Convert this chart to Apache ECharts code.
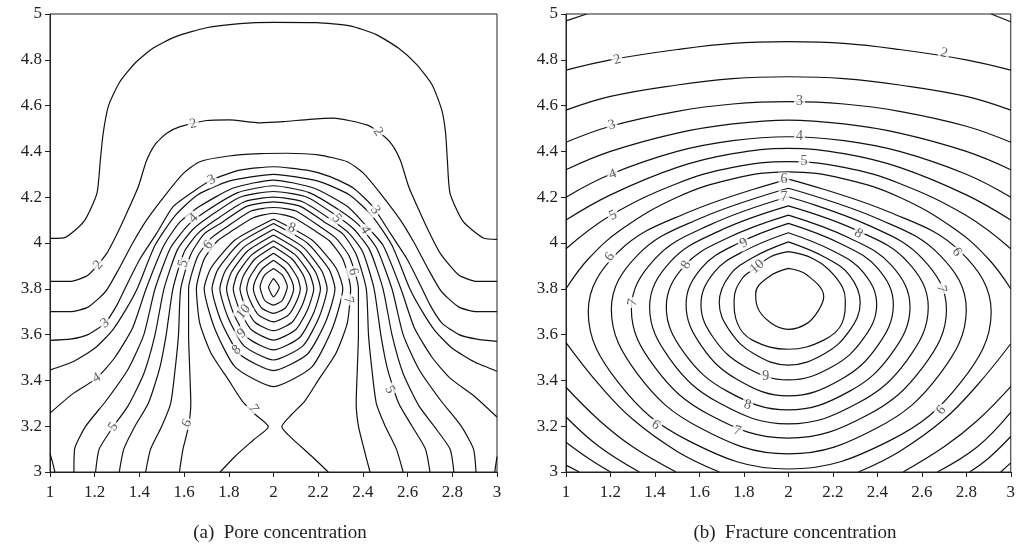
<!DOCTYPE html>
<html><head><meta charset="utf-8"><title>Concentration contours</title>
<script src="https://cdn.jsdelivr.net/npm/echarts@6/dist/echarts.min.js"></script>
<style>html,body{margin:0;padding:0;background:#fff;}#chart{width:1018px;height:552px;}</style>
</head><body><div id="chart"></div>
<script>
// ---------- axes ----------
const xRange = [1, 3];
const yRange = [3, 5];
const tickStep = 0.2;
const captions = ['(a)  Pore concentration', '(b)  Fracture concentration'];

// ---------- (a) pore concentration contours: [x, y] in data units ----------
const pore_1_5 = [[1,4.02],[1.061,4.022],[1.151,4.093],[1.21,4.217],[1.225,4.36],[1.238,4.48],[1.262,4.6],[1.31,4.7],[1.38,4.785],[1.46,4.85],[1.56,4.9],[1.7,4.94],[1.85,4.958],[2,4.963],[2.193,4.962],[2.342,4.948],[2.46,4.91],[2.56,4.85],[2.64,4.78],[2.71,4.69],[2.753,4.58],[2.77,4.48],[2.778,4.36],[2.79,4.217],[2.849,4.093],[2.939,4.022],[3,4.016]];
const pore_2 = [[1,3.832],[1.089,3.832],[1.171,3.86],[1.254,3.955],[1.3,4.04],[1.343,4.13],[1.395,4.246],[1.432,4.36],[1.47,4.43],[1.522,4.479],[1.582,4.508],[1.7,4.535],[1.8,4.538],[1.94,4.525],[2.044,4.53],[2.16,4.54],[2.268,4.545],[2.417,4.516],[2.478,4.479],[2.53,4.43],[2.568,4.36],[2.605,4.246],[2.657,4.13],[2.7,4.04],[2.746,3.955],[2.829,3.86],[2.911,3.832],[3,3.832]];
const pore_2_5 = [[1,3.7],[1.09,3.7],[1.17,3.72],[1.25,3.79],[1.31,3.89],[1.37,4.0],[1.432,4.1],[1.522,4.217],[1.597,4.304],[1.67,4.355],[1.8,4.38],[1.94,4.39],[2.06,4.392],[2.2,4.385],[2.33,4.355],[2.403,4.304],[2.478,4.217],[2.568,4.1],[2.63,4.0],[2.69,3.89],[2.75,3.79],[2.83,3.72],[2.91,3.7],[3,3.7]];
const pore_3 = [[1,3.575],[1.09,3.58],[1.17,3.6],[1.246,3.65],[1.3,3.73],[1.345,3.82],[1.4,3.926],[1.477,4.042],[1.55,4.158],[1.64,4.224],[1.723,4.275],[1.85,4.318],[2,4.333],[2.15,4.318],[2.253,4.29],[2.357,4.24],[2.445,4.158],[2.523,4.042],[2.6,3.926],[2.655,3.82],[2.7,3.73],[2.754,3.65],[2.83,3.6],[2.91,3.58],[3,3.57]];
const pore_3_5 = [[1,3.445],[1.1,3.48],[1.2,3.54],[1.28,3.62],[1.34,3.71],[1.39,3.8],[1.47,3.99],[1.56,4.12],[1.66,4.21],[1.8,4.27],[2,4.3],[2.2,4.27],[2.34,4.21],[2.44,4.12],[2.53,3.99],[2.61,3.8],[2.66,3.71],[2.72,3.62],[2.8,3.54],[2.9,3.48],[3,3.44]];
const pore_4 = [[1,3.257],[1.1,3.34],[1.209,3.41],[1.29,3.5],[1.37,3.63],[1.43,3.8],[1.51,3.99],[1.58,4.09],[1.67,4.16],[1.82,4.24],[2,4.275],[2.18,4.24],[2.33,4.16],[2.41,4.08],[2.49,3.99],[2.57,3.8],[2.63,3.63],[2.71,3.5],[2.79,3.41],[2.9,3.33],[3,3.24]];
const pore_4_cornerL = [[1,3.08],[1.012,3.04],[1.022,3]];
const pore_4_cornerR = [[2.99,3],[2.995,3.035],[3,3.067]];
const pore_4_5 = [[1.107,3],[1.11,3.1],[1.16,3.2],[1.25,3.31],[1.35,3.45],[1.42,3.6],[1.47,3.8],[1.54,3.98],[1.62,4.08],[1.7,4.14],[1.84,4.22],[2,4.25],[2.16,4.22],[2.3,4.14],[2.38,4.08],[2.46,3.98],[2.53,3.8],[2.58,3.6],[2.65,3.45],[2.75,3.31],[2.84,3.2],[2.895,3.1],[2.906,3]];
const pore_5 = [[1.204,3],[1.22,3.1],[1.283,3.198],[1.35,3.29],[1.42,3.43],[1.47,3.6],[1.51,3.8],[1.57,3.97],[1.64,4.06],[1.72,4.12],[1.85,4.2],[2,4.225],[2.15,4.2],[2.28,4.12],[2.36,4.06],[2.43,3.97],[2.49,3.8],[2.53,3.6],[2.58,3.43],[2.65,3.29],[2.72,3.198],[2.79,3.1],[2.807,3]];
const pore_5_5 = [[1.31,3],[1.33,3.1],[1.38,3.2],[1.44,3.3],[1.49,3.45],[1.52,3.6],[1.55,3.8],[1.6,3.96],[1.66,4.04],[1.74,4.1],[1.87,4.18],[2,4.2],[2.13,4.18],[2.26,4.1],[2.34,4.04],[2.4,3.96],[2.45,3.8],[2.48,3.6],[2.51,3.45],[2.56,3.3],[2.62,3.2],[2.68,3.1],[2.7,3]];
const pore_6 = [[1.428,3],[1.45,3.1],[1.5,3.2],[1.54,3.3],[1.56,3.45],[1.575,3.6],[1.585,3.8],[1.63,3.95],[1.69,4.04],[1.77,4.09],[1.88,4.16],[2,4.18],[2.12,4.16],[2.23,4.09],[2.31,4.04],[2.37,3.95],[2.415,3.8],[2.425,3.6],[2.44,3.45],[2.46,3.3],[2.5,3.2],[2.55,3.1],[2.58,3]];
const pore_6_5 = [[1.579,3],[1.595,3.1],[1.62,3.2],[1.63,3.3],[1.625,3.45],[1.62,3.6],[1.62,3.8],[1.66,3.94],[1.72,4.02],[1.79,4.07],[1.9,4.14],[2,4.155],[2.1,4.14],[2.21,4.07],[2.28,4.02],[2.34,3.94],[2.38,3.8],[2.38,3.6],[2.375,3.45],[2.37,3.3],[2.38,3.2],[2.405,3.1],[2.432,3]];
const pore_7 = [[1.761,3],[1.83,3.07],[1.91,3.14],[1.977,3.198],[1.92,3.25],[1.86,3.31],[1.8,3.4],[1.72,3.52],[1.67,3.65],[1.655,3.8],[1.69,3.93],[1.75,4.01],[1.81,4.05],[1.91,4.11],[2,4.13],[2.09,4.11],[2.19,4.05],[2.25,4.01],[2.31,3.93],[2.345,3.8],[2.33,3.65],[2.28,3.52],[2.2,3.4],[2.14,3.31],[2.08,3.25],[2.037,3.198],[2.09,3.14],[2.17,3.07],[2.245,3]];
const pore_7_5 = [[2,4.105],[2.171,4.014],[2.279,3.892],[2.31,3.8],[2.264,3.629],[2.171,3.458],[2,3.373],[1.829,3.458],[1.736,3.629],[1.69,3.8],[1.721,3.892],[1.829,4.014],[2,4.105]];
const pore_8 = [[2,4.085],[2.151,4.0],[2.248,3.886],[2.275,3.8],[2.234,3.657],[2.151,3.514],[2,3.443],[1.849,3.514],[1.766,3.657],[1.725,3.8],[1.752,3.886],[1.849,4.0],[2,4.085]];
const pore_8_5 = [[2,4.06],[2.132,3.982],[2.216,3.878],[2.24,3.8],[2.204,3.676],[2.132,3.551],[2,3.489],[1.868,3.551],[1.796,3.676],[1.76,3.8],[1.784,3.878],[1.868,3.982],[2,4.06]];
const pore_9 = [[2,4.035],[2.116,3.965],[2.189,3.871],[2.21,3.8],[2.179,3.693],[2.116,3.586],[2,3.533],[1.884,3.586],[1.821,3.693],[1.79,3.8],[1.811,3.871],[1.884,3.965],[2,4.035]];
const pore_9_5 = [[2,4.01],[2.099,3.947],[2.162,3.863],[2.18,3.8],[2.153,3.71],[2.099,3.621],[2,3.576],[1.901,3.621],[1.847,3.71],[1.82,3.8],[1.838,3.863],[1.901,3.947],[2,4.01]];
const pore_10 = [[2,3.985],[2.083,3.93],[2.135,3.856],[2.15,3.8],[2.128,3.727],[2.083,3.654],[2,3.617],[1.917,3.654],[1.872,3.727],[1.85,3.8],[1.865,3.856],[1.917,3.93],[2,3.985]];
const pore_10_5 = [[2,3.955],[2.066,3.909],[2.108,3.847],[2.12,3.8],[2.102,3.742],[2.066,3.685],[2,3.656],[1.934,3.685],[1.898,3.742],[1.88,3.8],[1.892,3.847],[1.934,3.909],[2,3.955]];
const pore_11 = [[2,3.925],[2.05,3.8875],[2.081,3.8375],[2.09,3.8],[2.077,3.757],[2.05,3.714],[2,3.693],[1.95,3.714],[1.923,3.757],[1.91,3.8],[1.919,3.8375],[1.95,3.8875],[2,3.925]];
const pore_11_5 = [[2,3.889],[2.04,3.86],[2.062,3.81],[2.04,3.75],[2,3.729],[1.96,3.75],[1.94,3.81],[1.96,3.86],[2,3.889]];
const pore_12 = [[2,3.846],[2.026,3.807],[2,3.765],[1.978,3.807],[2,3.846]];
// contour labels [x, y, text, rotation]
const poreLabels = [
  [1.216,3.904,'2',50],[1.641,4.52,'2',12],[2.468,4.486,'2',-55],
  [1.246,3.65,'3',35],[1.723,4.275,'3',25],[2.455,4.144,'3',-55],
  [1.209,3.41,'4',30],[1.641,4.108,'4',45],[2.41,4.057,'4',-60],
  [1.283,3.198,'5',55],[1.596,3.911,'5',75],[2.283,4.108,'5',-50],[2.52,3.36,'5',-65],
  [1.612,3.213,'6',65],[1.708,3.991,'6',50],[2.357,3.875,'6',-75],
  [1.91,3.278,'7',-60],[2.335,3.751,'7',-80],
  [2.082,4.065,'8',-20],[1.835,3.533,'8',40],
  [1.858,3.605,'9',40],
  [1.865,3.70,'10',50]
];

// ---------- (b) fracture concentration contours ----------
const frac_1_5_left = [[1,4.97],[1.093,5]];
const frac_1_5_right = [[2.912,5],[3,4.966]];
const frac_2 = [[1,4.755],[1.2,4.8],[1.5,4.845],[1.75,4.872],[2,4.879],[2.25,4.872],[2.5,4.845],[2.8,4.8],[3,4.755]];
const frac_2_5 = [[1,4.58],[1.2,4.64],[1.5,4.69],[1.75,4.718],[2,4.726],[2.25,4.718],[2.5,4.69],[2.8,4.64],[3,4.58]];
const frac_3 = [[1,4.44],[1.2,4.51],[1.5,4.575],[1.75,4.607],[2,4.617],[2.25,4.607],[2.5,4.575],[2.8,4.51],[3,4.44]];
const frac_3_5 = [[1,4.32],[1.2,4.4],[1.5,4.48],[1.75,4.52],[2,4.537],[2.25,4.52],[2.5,4.48],[2.8,4.4],[3,4.32]];
const frac_4 = [[1,4.2],[1.2,4.3],[1.5,4.4],[1.75,4.447],[2,4.464],[2.25,4.447],[2.5,4.4],[2.8,4.3],[3,4.2]];
const frac_4_5 = [[1,4.1],[1.2,4.21],[1.5,4.33],[1.75,4.39],[2,4.413],[2.25,4.39],[2.5,4.33],[2.8,4.21],[3,4.1]];
const frac_5 = [[1,3.975],[1.2,4.12],[1.5,4.26],[1.75,4.33],[2,4.355],[2.25,4.33],[2.5,4.26],[2.8,4.12],[3,3.975]];
const frac_5_5 = [[1,3.8],[1.1,3.93],[1.25,4.06],[1.5,4.2],[1.75,4.28],[2,4.311],[2.25,4.28],[2.5,4.2],[2.75,4.06],[2.9,3.93],[3,3.8]];
const frac_5_5_low_left = [[1,3.565],[1.15,3.38],[1.3,3.23],[1.5,3.09],[1.69,3]];
const frac_5_5_low_right = [[2.315,3],[2.5,3.09],[2.7,3.23],[2.85,3.38],[3,3.56]];
const frac_5_low_left = [[1,3.37],[1.15,3.225],[1.3,3.11],[1.495,3]];
const frac_5_low_right = [[2.516,3],[2.7,3.11],[2.85,3.225],[3,3.373]];
const frac_4_5_low_left = [[1,3.24],[1.15,3.11],[1.33,3]];
const frac_4_5_low_right = [[2.67,3],[2.85,3.11],[3,3.26]];
const frac_4_low_left = [[1,3.13],[1.1,3.06],[1.2,3]];
const frac_4_low_right = [[2.815,3],[2.9,3.06],[3,3.155]];
const frac_3_5_low_left = [[1,3.03],[1.06,3]];
const frac_3_5_low_right = [[2.955,3],[3,3.04]];
const frac_6 = [[2,4.279],[2.456,4.134],[2.775,3.961],[2.912,3.7],[2.775,3.391],[2.456,3.137],[2,3.013],[1.55,3.137],[1.235,3.391],[1.1,3.7],[1.235,3.961],[1.55,4.134],[2,4.279]];
const frac_6_5 = [[2,4.239],[2.4,4.107],[2.68,3.948],[2.8,3.71],[2.68,3.426],[2.4,3.193],[2,3.079],[1.602,3.193],[1.323,3.426],[1.204,3.71],[1.323,3.948],[1.602,4.107],[2,4.239]];
const frac_7 = [[2,4.202],[2.356,4.079],[2.604,3.931],[2.711,3.71],[2.604,3.457],[2.356,3.249],[2,3.148],[1.647,3.249],[1.4,3.457],[1.294,3.71],[1.4,3.931],[1.647,4.079],[2,4.202]];
const frac_7_5 = [[2,4.162],[2.315,4.052],[2.535,3.919],[2.629,3.72],[2.535,3.49],[2.315,3.302],[2,3.21],[1.688,3.302],[1.47,3.49],[1.376,3.72],[1.47,3.919],[1.688,4.052],[2,4.162]];
const frac_8 = [[2,4.122],[2.274,4.022],[2.465,3.901],[2.547,3.72],[2.465,3.518],[2.274,3.352],[2,3.271],[1.726,3.352],[1.533,3.518],[1.451,3.72],[1.533,3.901],[1.726,4.022],[2,4.122]];
const frac_8_5 = [[2,4.086],[2.236,3.997],[2.401,3.89],[2.472,3.73],[2.401,3.551],[2.236,3.404],[2,3.332],[1.77,3.404],[1.609,3.551],[1.54,3.73],[1.609,3.89],[1.77,3.997],[2,4.086]];
const frac_9 = [[2,4.045],[2.199,3.966],[2.337,3.872],[2.397,3.73],[2.337,3.582],[2.199,3.461],[2,3.402],[1.803,3.461],[1.666,3.582],[1.607,3.73],[1.666,3.872],[1.803,3.966],[2,4.045]];
const frac_9_5 = [[2,4.005],[2.162,3.939],[2.275,3.859],[2.323,3.74],[2.275,3.617],[2.162,3.516],[2,3.467],[1.845,3.516],[1.736,3.617],[1.689,3.74],[1.736,3.859],[1.845,3.939],[2,4.005]];
const frac_10 = [[2,3.962],[2.107,3.933],[2.211,3.853],[2.256,3.751],[2.241,3.649],[2.159,3.576],[2,3.536],[1.838,3.576],[1.771,3.649],[1.756,3.751],[1.793,3.846],[1.86,3.896],[1.92,3.94],[2,3.962]];
const frac_10_5 = [[2,3.889],[2.084,3.86],[2.159,3.765],[2.136,3.707],[2.084,3.649],[2,3.623],[1.92,3.652],[1.86,3.722],[1.853,3.78],[1.913,3.853],[2,3.889]];
const fracLabels = [
  [1.23,4.8,'2',14],[2.7,4.83,'2',-14],
  [1.206,4.515,'3',16],[2.05,4.62,'3',0],
  [1.21,4.3,'4',20],[2.05,4.464,'4',0],
  [1.212,4.12,'5',26],[2.07,4.355,'5',0],
  [1.98,4.278,'6',0],[1.197,3.94,'6',55],[2.758,3.96,'6',-50],[2.687,3.27,'6',50],[1.403,3.205,'6',-35],
  [1.98,4.2,'7',0],[1.3,3.74,'7',80],[2.688,3.8,'7',-80],[1.77,3.18,'7',-18],
  [2.315,4.042,'8',-35],[1.54,3.904,'8',60],[1.816,3.293,'8',-15],
  [1.8,4.0,'9',30],[1.898,3.416,'9',0],
  [1.86,3.897,'10',40]
];

const poreLines = [pore_1_5,pore_2,pore_2_5,pore_3,pore_3_5,pore_4,pore_4_cornerL,pore_4_cornerR,pore_4_5,pore_5,pore_5_5,pore_6,pore_6_5,pore_7,pore_7_5,pore_8,pore_8_5,pore_9,pore_9_5,pore_10,pore_10_5,pore_11,pore_11_5,pore_12];
const fracLines = [frac_1_5_left,frac_1_5_right,frac_2,frac_2_5,frac_3,frac_3_5,frac_4,frac_4_5,frac_5,frac_5_5,frac_5_5_low_left,frac_5_5_low_right,frac_5_low_left,frac_5_low_right,frac_4_5_low_left,frac_4_5_low_right,frac_4_low_left,frac_4_low_right,frac_3_5_low_left,frac_3_5_low_right,frac_6,frac_6_5,frac_7,frac_7_5,frac_8,frac_8_5,frac_9,frac_9_5,frac_10,frac_10_5];

// ---------- chart ----------
const FONT = 'Liberation Serif';
const chart = echarts.init(document.getElementById('chart'), null, {renderer: 'canvas'});
function xAxisCfg(i) {
  return {type: 'value', gridIndex: i, min: xRange[0], max: xRange[1], interval: tickStep,
    axisLine: {show: true, onZero: false, lineStyle: {color: '#222', width: 1}},
    axisTick: {show: true, length: 5, lineStyle: {color: '#222'}},
    axisLabel: {color: '#222', fontFamily: FONT, fontSize: 17, margin: 12, formatter: v => String(+v.toFixed(1))},
    splitLine: {show: false}};
}
function yAxisCfg(i) {
  return {type: 'value', gridIndex: i, min: yRange[0], max: yRange[1], interval: tickStep,
    axisLine: {show: true, onZero: false, lineStyle: {color: '#222', width: 1}},
    axisTick: {show: true, length: 5, lineStyle: {color: '#222'}},
    axisLabel: {color: '#222', fontFamily: FONT, fontSize: 17, margin: 8, formatter: v => String(+v.toFixed(1))},
    splitLine: {show: false}};
}
function lineSeries(pts, idx, smooth) {
  return {type: 'line', xAxisIndex: idx, yAxisIndex: idx, data: pts, showSymbol: false, symbol: 'none',
    smooth: smooth, clip: true, silent: true, animation: false, z: 2,
    lineStyle: {color: '#111', width: 1.2}};
}
function labelSeries(labels, idx) {
  return {type: 'scatter', xAxisIndex: idx, yAxisIndex: idx, symbolSize: 0, silent: true, animation: false, z: 5,
    data: labels.map(l => ({value: [l[0], l[1]], label: {formatter: l[2], rotate: l[3]}})),
    label: {show: true, position: 'inside', color: '#333', fontFamily: FONT, fontSize: 14,
      backgroundColor: '#fff', padding: [0, 2]}};
}
const series = [];
poreLines.forEach(p => series.push(lineSeries(p, 0, 0.2)));
fracLines.forEach(p => series.push(lineSeries(p, 1, 0.4)));
series.push(labelSeries(poreLabels, 0));
series.push(labelSeries(fracLabels, 1));

chart.setOption({
  animation: false,
  backgroundColor: '#fff',
  title: [
    {text: captions[0], left: 275, top: 519, textAlign: 'center', textStyle: {fontFamily: FONT, fontSize: 19, fontWeight: 'normal', color: '#222'}},
    {text: captions[1], left: 790, top: 519, textAlign: 'center', textStyle: {fontFamily: FONT, fontSize: 19, fontWeight: 'normal', color: '#222'}}
  ],
  grid: [
    {left: 50, top: 14, width: 447, height: 458, show: true, borderColor: '#222', borderWidth: 1, containLabel: false},
    {left: 566, top: 14, width: 447, height: 458, show: true, borderColor: '#222', borderWidth: 1, containLabel: false}
  ],
  xAxis: [xAxisCfg(0), xAxisCfg(1)],
  yAxis: [yAxisCfg(0), yAxisCfg(1)],
  series: series
});
</script></body></html>
